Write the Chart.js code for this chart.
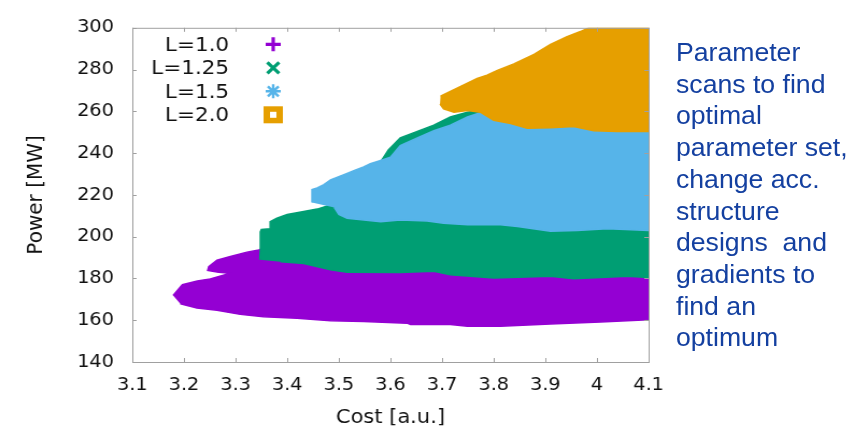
<!DOCTYPE html>
<html><head><meta charset="utf-8">
<script src="https://cdn.jsdelivr.net/npm/chart.js@4.4.0/dist/chart.umd.min.js"></script>
<style>
html,body{margin:0;padding:0;background:#fff;overflow:hidden;}
#wrap{position:relative;width:868px;height:433px;}
#c{position:absolute;left:0;top:0;}
#note{position:absolute;left:676px;top:37px;font-family:"Liberation Sans",Arial,sans-serif;font-size:25px;line-height:31.7px;color:#1440a0;transform:scaleX(1.065);transform-origin:0 0;white-space:pre;}
</style></head>
<body><div id="wrap"><canvas id="c" width="807" height="433" style="width:868px;height:433px;"></canvas><div id="note"></div></div>
<script>
// ---- data ----
const seriesLabels = ['L=1.0', 'L=1.25', 'L=1.5', 'L=2.0'];
const seriesColors = ['#9400d3', '#009e73', '#56b4e9', '#e69f00'];
const legendMarks = ['plus', 'cross', 'star', 'square'];
const xTicks = [3.1, 3.2, 3.3, 3.4, 3.5, 3.6, 3.7, 3.8, 3.9, 4.0, 4.1];
const xTickLabels = ['3.1', '3.2', '3.3', '3.4', '3.5', '3.6', '3.7', '3.8', '3.9', '4', '4.1'];
const yTicks = [140, 160, 180, 200, 220, 240, 260, 280, 300];
const yTickLabels = ['140', '160', '180', '200', '220', '240', '260', '280', '300'];
const xTitle = 'Cost [a.u.]';
const yTitle = 'Power [MW]';

// outline of each scanned region (Cost, Power)
const regionL10 = [
  [3.179,171.8],[3.197,177.0],[3.226,178.8],[3.251,179.8],[3.290,182.5],[3.267,183.0],[3.246,183.8],
  [3.248,185.6],[3.264,188.7],[3.290,190.5],[3.322,192.6],[3.345,193.6],[3.36,195],[4.1,192],
  [4.1,160.2],[4.007,159.1],[3.910,158.2],[3.813,157.1],[3.749,157.1],[3.716,157.9],[3.639,157.9],
  [3.632,158.6],[3.548,159.4],[3.484,159.7],[3.419,160.9],[3.354,161.7],[3.309,162.8],[3.264,164.8],
  [3.225,165.9],[3.193,167.9]
];
const regionL125 = [
  [3.347,189.0],[3.348,193.3],[3.348,202.3],[3.350,203.4],[3.367,203.8],[3.367,207.2],[3.380,208.8],
  [3.400,210.6],[3.432,212.0],[3.458,213.2],[3.484,215.2],[3.491,215.7],[3.561,228.3],[3.596,241.5],
  [3.619,247.3],[3.652,250.4],[3.684,253.4],[3.716,257.3],[3.749,259.6],[3.771,260.4],[3.794,258.4],
  [3.813,242.7],[4.1,242.7],
  [4.1,180.5],[4.059,181.0],[3.955,179.9],[3.910,181.0],[3.800,180.2],[3.716,181.8],[3.684,183.4],
  [3.619,182.9],[3.516,183.0],[3.484,184.1],[3.432,187.2],[3.387,188.0]
];
const regionL15 = [
  [3.448,216.4],[3.448,222.6],[3.458,223.3],[3.471,224.9],[3.484,227.2],[3.516,230.3],[3.529,231.6],
  [3.548,233.4],[3.561,234.9],[3.581,236.5],[3.600,238.0],[3.619,243.6],[3.652,247.3],[3.684,250.7],
  [3.716,253.4],[3.749,257.3],[3.774,259.3],[3.794,265.8],[4.1,265.8],
  [4.1,202.9],[4.020,203.8],[3.962,202.9],[3.910,202.6],[3.846,204.9],[3.813,205.7],[3.749,205.7],
  [3.703,206.4],[3.671,207.5],[3.619,208.0],[3.581,207.2],[3.516,208.8],[3.500,210.6],[3.491,214.0]
];
const regionL20 = [
  [3.697,267.3],[3.716,269.6],[3.736,271.9],[3.768,275.8],[3.787,277.3],[3.807,279.6],[3.839,282.7],
  [3.878,287.3],[3.910,292.0],[3.942,295.8],[3.968,298.2],[3.984,300],[4.1,300],
  [4.1,250.4],[4.039,250.4],[3.994,250.7],[3.955,252.7],[3.910,252.2],[3.865,251.9],[3.833,254.2],
  [3.800,255.7],[3.774,259.6],[3.749,260.4],[3.723,259.6],[3.703,261.2],[3.696,263.5]
];
const regions = [regionL10, regionL125, regionL15, regionL20];

const noteLines = ['Parameter', 'scans to find', 'optimal', 'parameter set,', 'change acc.', 'structure', 'designs  and', 'gradients to', 'find an', 'optimum'];

// ---- note text ----
const note = document.getElementById('note');
noteLines.forEach(t => { const d = document.createElement('div'); d.textContent = t; note.appendChild(d); });

// ---- chart ----
const FRAME = '#a0a0a0';
const datasets = regions.map((r, i) => ({
  label: seriesLabels[i],
  data: r.map(p => ({x: p[0], y: p[1]})),
  showLine: true,
  fill: 'shape',
  backgroundColor: seriesColors[i],
  borderColor: seriesColors[i],
  borderWidth: 1.5,
  pointRadius: 0,
  tension: 0,
  order: regions.length - i
}));

const framePlugin = {
  id: 'frame',
  afterDatasetsDraw(chart) {
    const {ctx, chartArea: a, scales: {x, y}} = chart;
    ctx.save();
    ctx.strokeStyle = FRAME;
    ctx.lineWidth = 1;
    ctx.strokeRect(a.left + 0.5, a.top + 0.5, a.right - a.left, a.bottom - a.top);
    const L = 4;
    ctx.beginPath();
    xTicks.forEach(v => {
      const px = Math.round(x.getPixelForValue(v)) + 0.5;
      ctx.moveTo(px, a.bottom); ctx.lineTo(px, a.bottom - L);
      ctx.moveTo(px, a.top); ctx.lineTo(px, a.top + L);
    });
    yTicks.forEach(v => {
      const py = Math.round(y.getPixelForValue(v)) + 0.5;
      ctx.moveTo(a.left, py); ctx.lineTo(a.left + L, py);
      ctx.moveTo(a.right, py); ctx.lineTo(a.right - L, py);
    });
    ctx.stroke();
    ctx.restore();
  }
};

const legendPlugin = {
  id: 'gnuLegend',
  afterDraw(chart) {
    const {ctx, chartArea: a} = chart;
    ctx.save();
    ctx.font = '20px "DejaVu Sans"';
    ctx.textAlign = 'right';
    ctx.textBaseline = 'middle';
    seriesLabels.forEach((lab, i) => {
      const cy = a.top + 16.5 + i * 23.5;
      ctx.fillStyle = '#111';
      ctx.fillText(lab, a.left + 90, cy + 1);
      const cx = a.left + 131;
      const c = seriesColors[i];
      ctx.strokeStyle = c; ctx.fillStyle = c;
      const m = legendMarks[i];
      ctx.beginPath();
      if (m === 'plus') {
        ctx.lineWidth = 3.2;
        ctx.moveTo(cx - 7, cy); ctx.lineTo(cx + 7, cy);
        ctx.moveTo(cx, cy - 7); ctx.lineTo(cx, cy + 7);
        ctx.stroke();
      } else if (m === 'cross') {
        ctx.lineWidth = 3.2;
        ctx.moveTo(cx - 5.5, cy - 5.5); ctx.lineTo(cx + 5.5, cy + 5.5);
        ctx.moveTo(cx + 5.5, cy - 5.5); ctx.lineTo(cx - 5.5, cy + 5.5);
        ctx.stroke();
      } else if (m === 'star') {
        ctx.lineWidth = 2.4;
        ctx.moveTo(cx - 7, cy); ctx.lineTo(cx + 7, cy);
        ctx.moveTo(cx, cy - 7); ctx.lineTo(cx, cy + 7);
        ctx.moveTo(cx - 5, cy - 5); ctx.lineTo(cx + 5, cy + 5);
        ctx.moveTo(cx + 5, cy - 5); ctx.lineTo(cx - 5, cy + 5);
        ctx.stroke();
      } else {
        ctx.fillRect(cx - 9, cy - 8.5, 18, 17);
        ctx.fillStyle = '#fff';
        ctx.fillRect(cx - 3, cy - 3, 6, 6);
      }
    });
    ctx.restore();
  }
};

new Chart(document.getElementById('c'), {
  type: 'scatter',
  data: {datasets},
  options: {
    responsive: false,
    animation: false,
    layout: {padding: {left: 0, right: 204, top: 16, bottom: 0}},
    plugins: {legend: {display: false}, tooltip: {enabled: false}, filler: {propagate: false}},
    scales: {
      x: {
        type: 'linear', min: 3.1, max: 4.1,
        afterBuildTicks: s => { s.ticks = xTicks.map(v => ({value: v})); },
        afterFit: s => { s.height = 71; },
        ticks: {callback: (v, i) => xTickLabels[i], color: '#111', font: {family: 'DejaVu Sans', size: 18}, padding: 13, maxRotation: 0, autoSkip: false},
        grid: {display: false, drawTicks: false},
        border: {display: false},
        title: {display: true, text: xTitle, color: '#111', font: {family: 'DejaVu Sans', size: 19.5}, padding: {top: 0, bottom: 3}}
      },
      y: {
        type: 'linear', min: 140, max: 300,
        afterBuildTicks: s => { s.ticks = yTicks.map(v => ({value: v})); },
        afterFit: s => { s.width = 123; },
        ticks: {callback: (v, i) => yTickLabels[i], color: '#111', font: {family: 'DejaVu Sans', size: 18}, padding: 17, autoSkip: false},
        grid: {display: false, drawTicks: false},
        border: {display: false},
        title: {display: true, text: yTitle, color: '#111', font: {family: 'DejaVu Sans', size: 20}, padding: {top: 22, bottom: 0}}
      }
    }
  },
  plugins: [framePlugin, legendPlugin]
});
</script>
</body></html>
